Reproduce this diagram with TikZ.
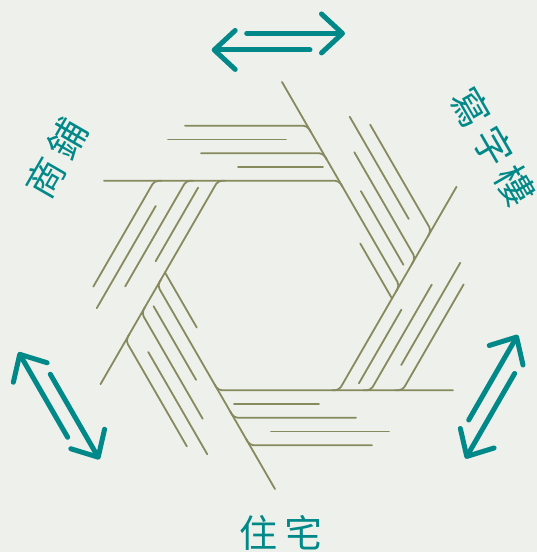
\documentclass[tikz,border=0pt]{standalone}
\usepackage{xcolor}
\definecolor{olivetrait}{RGB}{134,138,92}
\definecolor{sarcelle}{RGB}{0,137,136}
\definecolor{fond}{RGB}{238,240,235}
\usepackage{fontspec}
\newfontfamily\cjk[LetterSpace=18]{Noto Sans CJK TC}
\usepackage{tikz}
\usetikzlibrary{arrows.meta}

\begin{document}
\begin{tikzpicture}[x=1pt, y=1pt,
    trait/.style={draw=olivetrait, line width=1.8pt, line cap=round},
    raccord/.style={trait, rounded corners=4pt},
    fleche/.style={draw=sarcelle, line width=5pt, line cap=round,
                   -{Straight Barb[length=21pt, width=39pt, round]}},
    etiq/.style={font=\cjk\fontsize{38}{38}\selectfont, text=sarcelle, inner sep=0pt}]
  \fill[fond] (-278.5,-266.5) rectangle (258.5,285.5);
  \useasboundingbox (-278.5,-266.5) rectangle (258.5,285.5);
  % six faisceaux autour de l'hexagone
  \foreach \ang in {0,-60,...,-300}{
    \begin{scope}[rotate=\ang]
      \foreach \ecart/\debut in {0/-235, 27.5/-138, 55/-154}
        \draw[raccord] ({60.5+(\debut)},{104.8+\ecart}) -- ({60.5-0.5774*\ecart},{104.8+\ecart}) -- ++(3.5,-6.06);
      \foreach \ecart/\debut/\fin in {13.75/-101/-16, 41.25/-171/-53}
        \draw[trait] ({60.5+(\debut)},{104.8+\ecart}) -- ({60.5+(\fin)},{104.8+\ecart});
    \end{scope}
  }
  \foreach \ang in {-60,-240}
    \draw[trait, rotate=\ang] (4.5,91.8) -- (68,91.8);
  % fleches doubles
  \foreach \ang/\px/\py in {0/-0.2/243.8, 120/-219.5/-120.3, 240/213.2/-111.2}{
    \begin{scope}[shift={(\px,\py)}, rotate=\ang]
      \draw[fleche] (-31.6,8.25) -- (66.7,8.25);
      \draw[fleche] (31.7,-8.25) -- (-66.6,-8.25);
    \end{scope}
  }
  \node[etiq, rotate=-60] (bureaux)   at (214.8,138.8) {寫字樓};
  \node[etiq, rotate=60]  (commerces) at (-222.3,127.2) {商鋪};
  \node[etiq]             (logement)  at (2.5,-247.5) {住宅};
\end{tikzpicture}
\end{document}
